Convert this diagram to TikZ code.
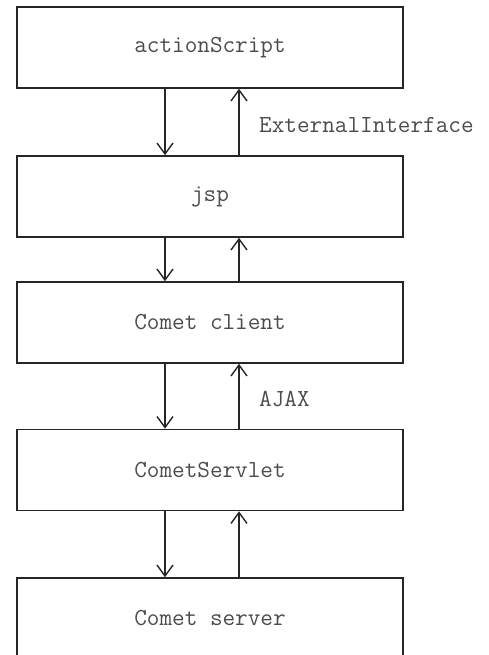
\documentclass[tikz,border=0pt]{standalone}
\usepackage{fontspec}
\usetikzlibrary{arrows.meta, calc, positioning}

\begin{document}
\begin{tikzpicture}[x=1pt, y=1pt,
    layer/.style={draw=black!85, line width=1.6pt, minimum width=386pt, minimum height=81pt,
                  inner sep=0pt, font=\ttfamily\fontsize{24.5}{27}\selectfont, text=black!70},
    flow/.style={draw=black!85, line width=1.4pt, -{Straight Barb[length=11pt, width=16pt, line width=1.4pt]}},
    lbl/.style={anchor=west, inner sep=0pt, font=\ttfamily\fontsize{24.5}{27}\selectfont, text=black!70}]
          \useasboundingbox (0,0) rectangle (489,655);
          \clip (0,0) rectangle (489,655);
          % Layers
          \node[layer] (as) at (210,607.5) {actionScript};
          \node[layer] (jsp) at (210,458.5) {jsp};
          \node[layer] (client) at (210,332.5) {Comet client};
          \node[layer] (servlet) at (210,185) {CometServlet};
          \node[layer] (server) at (210,36.5) {Comet server};
          % Arrow columns
          \coordinate (dn) at (165,0);
          \coordinate (up) at (239,0);
          % Requests going down
          \draw[flow] (as.south -| dn) -- (jsp.north -| dn);
          \draw[flow] (jsp.south -| dn) -- (client.north -| dn);
          \draw[flow] (client.south -| dn) -- (servlet.north -| dn);
          \draw[flow] (servlet.south -| dn) -- (server.north -| dn);
          % Responses going up
          \draw[flow] (jsp.north -| up) -- (as.south -| up);
          \draw[flow] (client.north -| up) -- (jsp.south -| up);
          \draw[flow] (servlet.north -| up) -- (client.south -| up);
          \draw[flow] (server.north -| up) -- (servlet.south -| up);
          % Labels
          \node[lbl] (ext) at (259,530) {ExternalInterface};
          \node[lbl] (ajax) at (259,256) {AJAX};
        \end{tikzpicture}
\end{document}
